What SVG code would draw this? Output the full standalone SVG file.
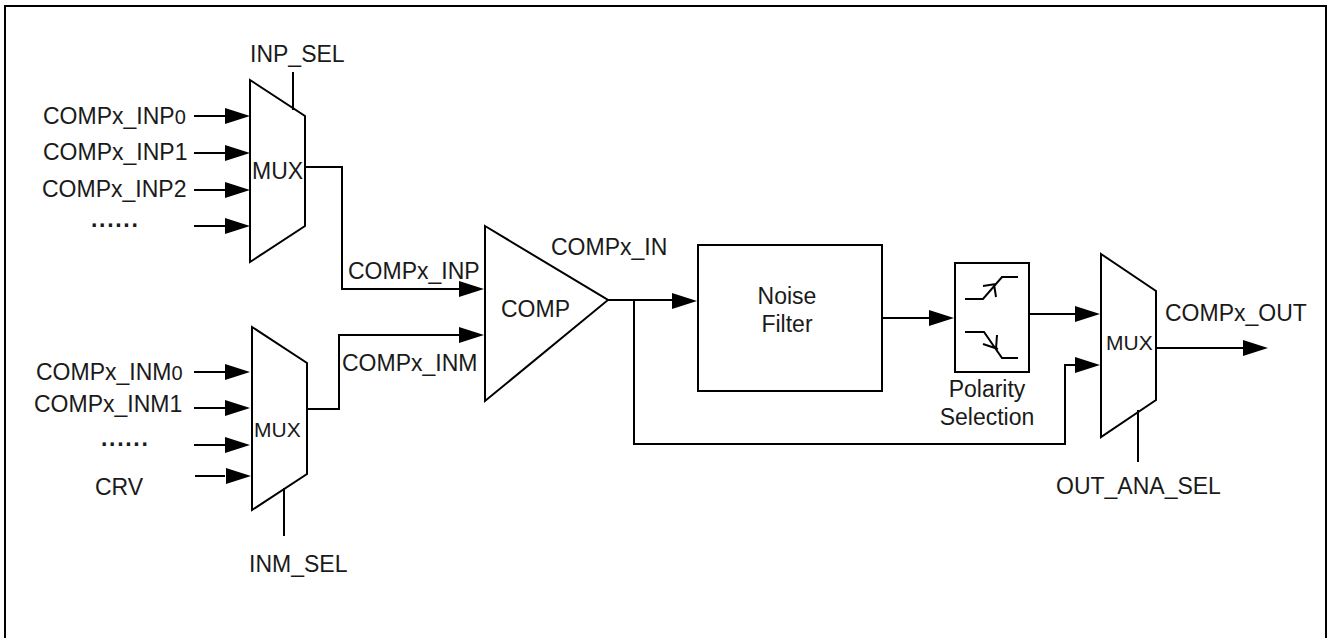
<svg xmlns="http://www.w3.org/2000/svg" width="1332" height="638" viewBox="0 0 1332 638">
<style>
text{font-family:"Liberation Sans",Arial,sans-serif;font-size:23px;fill:#1a1a1a}
.s{fill:none;stroke:#000;stroke-width:2}
.a{fill:#000;stroke:none}
.m{font-size:21px}
.d{font-size:20px}
.o{letter-spacing:1.7px;font-weight:bold}
</style>
<defs>
<path id="ah" class="a" d="M-25,-8 L0,0 L-25,8 Z"/>
</defs>
<rect id="frame" x="5" y="6" width="1321" height="660" fill="none" stroke="#000" stroke-width="2"/>
<g id="connectors">
<path class="s" d="M194,116H225M194,153H225M194,190H225M194,226H225"/>
<path class="s" d="M293,72V110"/>
<path class="s" d="M305,167H342V289H460"/>
<path class="s" d="M194,372H225M194,408H225M194,445H225M195,476H225"/>
<path class="s" d="M284,488V536"/>
<path class="s" d="M307,409H339V335H460"/>
<path class="s" d="M608,300H672"/>
<path class="s" d="M634,300V444H1065V365H1078"/>
<path class="s" d="M1029,314H1078"/>
<path class="s" d="M882,318H932"/>
<path class="s" d="M1156,348H1245"/>
<path class="s" d="M1138,410V462"/>
<use href="#ah" x="250" y="116"/><use href="#ah" x="250" y="153"/><use href="#ah" x="250" y="190"/><use href="#ah" x="250" y="226"/>
<use href="#ah" x="250" y="372"/><use href="#ah" x="250" y="408"/><use href="#ah" x="250" y="445"/><use href="#ah" x="251" y="476"/>
<use href="#ah" x="484" y="289"/><use href="#ah" x="484" y="335"/>
<use href="#ah" x="697" y="301"/><use href="#ah" x="954" y="318"/>
<use href="#ah" x="1100" y="314"/><use href="#ah" x="1100" y="365"/><use href="#ah" x="1268" y="348"/>
</g>
<g id="mux1"><path class="s" d="M250,80L305,116V226L250,262Z"/><text x="252" y="179">MUX</text></g>
<g id="mux2"><path class="s" d="M252,327L307,363V474L252,510Z"/><text x="254" y="437" class="m">MUX</text></g>
<g id="mux3"><path class="s" d="M1101,254L1156,291V400L1101,437Z"/><text x="1106" y="350" class="m">MUX</text></g>
<g id="comp"><path class="s" d="M485,226L608,300L485,401Z"/><text x="501" y="317">COMP</text></g>
<g id="filter"><rect class="s" x="698" y="245" width="184" height="146"/><text x="787" y="304" text-anchor="middle">Noise</text><text x="787" y="332" text-anchor="middle">Filter</text></g>
<g id="polarity"><rect class="s" x="955" y="263" width="74" height="109"/>
<path class="s" d="M965,299H983L1002,277H1018M994,284L996,297M983,286L996,284"/>
<path class="s" d="M965,332H984L1002,358H1018M997,335L996,349M983,344L998,349"/>
<text x="987" y="397" text-anchor="middle">Polarity</text><text x="987" y="425" text-anchor="middle">Selection</text></g>
<g id="labels">
<text x="250" y="62">INP_SEL</text>
<text x="43" y="124">COMPx_INP<tspan class="d">0</tspan></text>
<text x="43" y="160">COMPx_INP1</text>
<text x="42" y="197">COMPx_INP2</text>
<text x="91" y="227" class="o">......</text>
<text x="348" y="279">COMPx_INP</text>
<text x="342" y="371">COMPx_INM</text>
<text x="36" y="380">COMPx_INM<tspan class="d">0</tspan></text>
<text x="34" y="412">COMPx_INM1</text>
<text x="101" y="446" class="o">......</text>
<text x="95" y="495">CRV</text>
<text x="249" y="572">INM_SEL</text>
<text x="551" y="255">COMPx_IN</text>
<text x="1165" y="321">COMPx_OUT</text>
<text x="1056" y="494">OUT_ANA_SEL</text>
</g>
</svg>
